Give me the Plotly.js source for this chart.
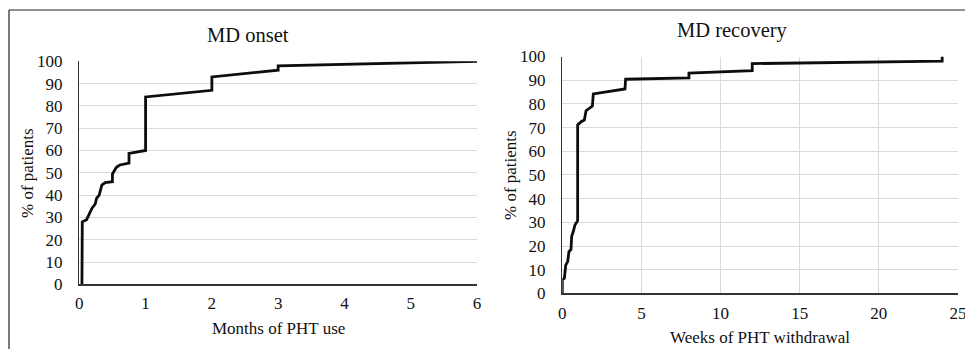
<!DOCTYPE html>
<html>
<head>
<meta charset="utf-8">
<script src="https://cdn.plot.ly/plotly-3.0.1.min.js"></script>
<style>html,body{margin:0;padding:0;background:#fff;}#chart{width:965px;height:349px;}</style>
</head>
<body>
<div id="chart"></div>
<script>
// MD onset: months of PHT use vs cumulative % of patients
const onsetMonths = [0.04, 0.04, 0.045, 0.11, 0.14, 0.19, 0.24, 0.26, 0.30, 0.34, 0.39, 0.5, 0.5, 0.56, 0.61, 0.75, 0.75, 1.0, 1.0, 2.0, 2.0, 3.0, 3.0, 6.0];
const onsetPct    = [0, 26, 28, 29, 31, 34, 36, 38.5, 40, 44.5, 45.6, 46, 49.5, 52.5, 53.5, 54.3, 58.7, 60, 84, 87, 93, 96, 98, 100];

// MD recovery: weeks of PHT withdrawal vs cumulative % of patients
const recoveryWeeks = [0, 0, 0.13, 0.22, 0.34, 0.42, 0.55, 0.59, 0.69, 0.8, 0.97, 0.97, 1.19, 1.39, 1.5, 1.7, 1.9, 1.96, 3.96, 4.0, 8, 8, 12, 12, 24, 24];
const recoveryPct   = [0, 5.7, 6.4, 12, 13.4, 17.6, 18.6, 24, 26, 28.9, 30.7, 71.1, 72.5, 73.2, 77.1, 78.1, 79.1, 84.2, 86.3, 90.4, 91, 93, 94, 97, 98, 100];

const yTicks = [0, 10, 20, 30, 40, 50, 60, 70, 80, 90, 100];
const onsetXTicks = [0, 1, 2, 3, 4, 5, 6];
const recoveryXTicks = [0, 5, 10, 15, 20, 25];

const titles = ["MD onset", "MD recovery"];
const xTitles = ["Months of PHT use", "Weeks of PHT withdrawal"];
const yTitle = "% of patients";

const serif = "Liberation Serif";
const lineStyle = {color: '#0d0d0d', width: 2.8};

const traces = [
  {x: onsetMonths, y: onsetPct, type: 'scatter', mode: 'lines', line: lineStyle, xaxis: 'x', yaxis: 'y', hoverinfo: 'skip'},
  {x: recoveryWeeks, y: recoveryPct, type: 'scatter', mode: 'lines', line: lineStyle, xaxis: 'x2', yaxis: 'y2', hoverinfo: 'skip'}
];

const W = 965, H = 349;
const px = v => v / W, py = v => 1 - v / H;

const tickFont = {family: serif, size: 17, color: '#111'};
const gridColor = '#d9d9d9';
const axisLine = '#333';
const titleFont = {family: serif, size: 20.5, color: '#111'};
const axTitleFont = {family: serif, size: 17, color: '#111'};

const layout = {
  width: W, height: H,
  font: {family: serif, size: 17, color: '#111'},
  margin: {l: 0, r: 0, t: 0, b: 0},
  paper_bgcolor: '#fff', plot_bgcolor: '#fff',
  showlegend: false,
  xaxis: {
    domain: [px(79.3), px(477)], range: [0, 6], tickvals: onsetXTicks, ticktext: onsetXTicks.map(String),
    showgrid: false, zeroline: false, showline: true, linecolor: axisLine, linewidth: 1.5,
    ticks: '', tickfont: tickFont, ticklabelstandoff: 3, ticklabeloverflow: 'allow', anchor: 'y', fixedrange: true
  },
  yaxis: {
    domain: [py(284.3), py(61.3)], range: [0, 100], tickvals: yTicks, ticktext: yTicks.map(String),
    showgrid: true, gridcolor: gridColor, gridwidth: 1, zeroline: false, showline: true, linecolor: axisLine, linewidth: 1.5,
    ticks: '', tickfont: tickFont, ticklabelstandoff: 12, anchor: 'x', fixedrange: true
  },
  xaxis2: {
    domain: [px(562.3), px(958)], range: [0, 25], tickvals: recoveryXTicks, ticktext: recoveryXTicks.map(String),
    showgrid: true, gridcolor: gridColor, gridwidth: 1, zeroline: false, showline: true, linecolor: axisLine, linewidth: 1.8,
    ticks: '', tickfont: tickFont, ticklabelstandoff: 3, ticklabeloverflow: 'allow', anchor: 'y2', fixedrange: true
  },
  yaxis2: {
    domain: [py(293.4), py(56.5)], range: [0, 100], tickvals: yTicks, ticktext: yTicks.map(String),
    showgrid: true, gridcolor: gridColor, gridwidth: 1, zeroline: false, showline: true, linecolor: axisLine, linewidth: 1.5,
    ticks: '', tickfont: tickFont, ticklabelstandoff: 12, anchor: 'x2', fixedrange: true
  },
  annotations: [
    {text: titles[0], xref: 'paper', yref: 'paper', x: px(248), y: py(35), xanchor: 'center', yanchor: 'middle', showarrow: false, font: titleFont},
    {text: titles[1], xref: 'paper', yref: 'paper', x: px(732), y: py(30), xanchor: 'center', yanchor: 'middle', showarrow: false, font: titleFont},
    {text: xTitles[0], xref: 'paper', yref: 'paper', x: px(278), y: py(328), xanchor: 'center', yanchor: 'middle', showarrow: false, font: axTitleFont},
    {text: xTitles[1], xref: 'paper', yref: 'paper', x: px(760), y: py(337), xanchor: 'center', yanchor: 'middle', showarrow: false, font: axTitleFont},
    {text: yTitle, xref: 'paper', yref: 'paper', x: px(27), y: py(173), xanchor: 'center', yanchor: 'middle', textangle: -90, showarrow: false, font: axTitleFont},
    {text: yTitle, xref: 'paper', yref: 'paper', x: px(510), y: py(175), xanchor: 'center', yanchor: 'middle', textangle: -90, showarrow: false, font: axTitleFont}
  ],
  shapes: [
    {type: 'line', xref: 'paper', yref: 'paper', x0: px(9), x1: 1, y0: py(10), y1: py(10), line: {color: '#222', width: 1.2}},
    {type: 'line', xref: 'paper', yref: 'paper', x0: px(9), x1: px(9), y0: py(10), y1: 0, line: {color: '#222', width: 1.2}}
  ]
};

Plotly.newPlot('chart', traces, layout, {displayModeBar: false, staticPlot: true});
</script>
</body>
</html>
